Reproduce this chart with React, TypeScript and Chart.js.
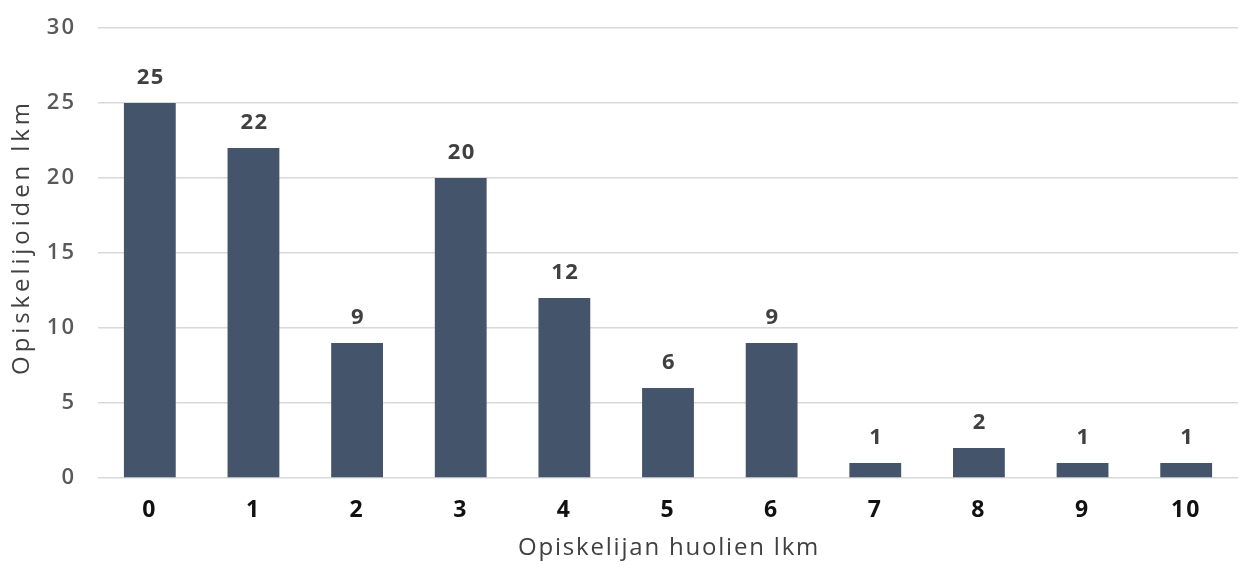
import React, { useEffect, useRef } from "react";
import { Chart, registerables } from "chart.js";

Chart.register(...registerables);

const categories = ["0", "1", "2", "3", "4", "5", "6", "7", "8", "9", "10"];
const values = [25, 22, 9, 20, 12, 6, 9, 1, 2, 1, 1];
const yTicks = [0, 5, 10, 15, 20, 25, 30];
const xTitle = "Opiskelijan huolien lkm";
const yTitle = "Opiskelijoiden lkm";

const FONT = "'Open Sans', 'Noto Sans', sans-serif";

const spacingPlugin = {
  id: "spacing",
  beforeDraw(chart: any) {
    (chart.ctx as any).letterSpacing = "2px";
  },
};

const labelPlugin = {
  id: "valueLabels",
  afterDatasetsDraw(chart: any) {
    const ctx = chart.ctx;
    const meta = chart.getDatasetMeta(0);
    ctx.save();
    (ctx as any).letterSpacing = "1.5px";
    ctx.font = `bold 22px ${FONT}`;
    ctx.fillStyle = "#404040";
    ctx.textAlign = "center";
    ctx.textBaseline = "alphabetic";
    meta.data.forEach((bar: any, i: number) => {
      ctx.fillText(String(values[i]), bar.x + 1, bar.y - 19);
    });
    ctx.restore();
  },
  afterDraw(chart: any) {
    const ctx = chart.ctx;
    const area = chart.chartArea;
    ctx.save();
    ctx.fillStyle = "#404040";
    ctx.textAlign = "center";
    ctx.textBaseline = "middle";
    (ctx as any).letterSpacing = "1.8px";
    ctx.font = `24px ${FONT}`;
    ctx.fillText(xTitle, (area.left + area.right) / 2 + 1, 548);
    ctx.translate(22, 237);
    ctx.rotate(-Math.PI / 2);
    (ctx as any).letterSpacing = "3.9px";
    ctx.fillText(yTitle, 0, 0);
    ctx.restore();
  },
};

export default function App() {
  const ref = useRef<HTMLCanvasElement | null>(null);
  useEffect(() => {
    if (!ref.current) return;
    const chart = new Chart(ref.current, {
      type: "bar",
      data: {
        labels: categories,
        datasets: [
          {
            data: values,
            backgroundColor: "#44546a",
            categoryPercentage: 1,
            barPercentage: 0.5,
          },
        ],
      },
      options: {
        animation: false,
        responsive: true,
        maintainAspectRatio: false,
        layout: { padding: { top: 28, right: 1, bottom: 0, left: 0 } },
        plugins: { legend: { display: false }, tooltip: { enabled: false } },
        scales: {
          x: {
            grid: { display: false, drawTicks: false },
            border: { display: false },
            ticks: {
              color: "#111111",
              font: { family: FONT, size: 23, weight: "bold" },
              padding: 19,
            },
            afterFit(scale: any) {
              scale.height = 87;
            },
          },
          y: {
            min: 0,
            max: 30,
            afterBuildTicks(scale: any) {
              scale.ticks = yTicks.map((v) => ({ value: v }));
            },
            grid: { color: "#d9d9d9", lineWidth: 1.5, drawTicks: false },
            border: { display: false },
            ticks: {
              color: "#595959",
              font: { family: FONT, size: 22, weight: 600 },
              padding: 22,
            },
            afterFit(scale: any) {
              scale.width = 98;
              scale.paddingTop = 0;
              scale.paddingBottom = 0;
            },
          },
        },
      },
      plugins: [spacingPlugin, labelPlugin],
    });
    return () => chart.destroy();
  }, []);
  return (
    <div style={{ position: "fixed", left: 0, top: 0, width: 1239, height: 565, background: "#fff" }}>
      <canvas ref={ref} />
    </div>
  );
}
